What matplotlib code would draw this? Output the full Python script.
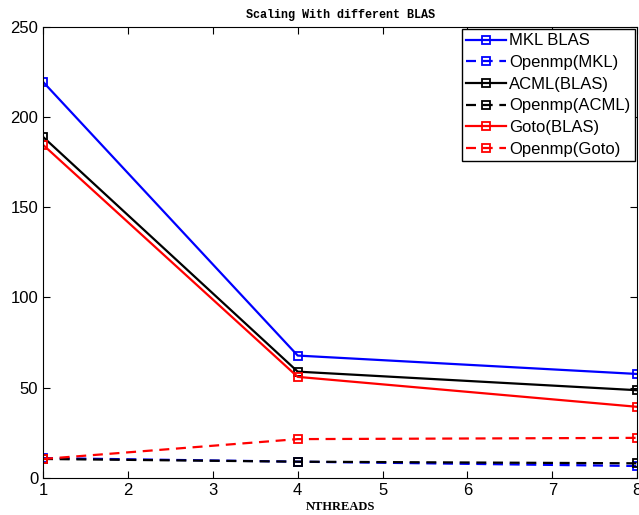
import matplotlib
matplotlib.use('Agg')
import matplotlib.pyplot as plt

# threads
nthreads = [1, 4, 8]

# timings
mkl_blas = [219.5, 67.8, 57.6]
omp_mkl = [11.0, 9.0, 6.6]
acml_blas = [189.0, 58.9, 48.6]
omp_acml = [10.5, 9.0, 8.1]
goto_blas = [184.6, 56.0, 39.4]
omp_goto = [10.5, 21.5, 22.2]

plt.rcParams['font.family'] = ['Liberation Sans', 'DejaVu Sans']

fig = plt.figure(figsize=(6.39, 5.15), dpi=100)
ax = fig.add_axes([0.0673, 0.072, 0.930, 0.876])

ms = 5.5
lw = 1.6
dash = (4.5, 3)
series = [
    (mkl_blas, '-', 'blue', 'MKL BLAS'),
    (omp_mkl, '--', 'blue', 'Openmp(MKL)'),
    (acml_blas, '-', 'black', 'ACML(BLAS)'),
    (omp_acml, '--', 'black', 'Openmp(ACML)'),
    (goto_blas, '-', 'red', 'Goto(BLAS)'),
    (omp_goto, '--', 'red', 'Openmp(Goto)'),
]
for vals, ls, col, lab in series:
    line, = ax.plot(nthreads, vals, ls, marker='s', color=col, mfc='none', ms=ms,
                    mew=1.3, lw=lw, label=lab)
    if ls == '--':
        line.set_dashes(dash)

ax.set_xlim(1, 8)
ax.set_ylim(0, 250)
ax.set_xticks(range(1, 9))
ax.set_yticks([0, 50, 100, 150, 200, 250])
ax.tick_params(direction='in', top=True, right=True, labelsize=12, length=5)
ax.tick_params(axis='x', pad=4)

ax.set_title('Scaling With different BLAS', family=['Liberation Mono', 'DejaVu Sans Mono'],
             fontweight='bold', fontsize=8.5, pad=6)
ax.set_xlabel('NTHREADS', family=['Liberation Serif', 'DejaVu Serif'], fontweight='bold',
              fontsize=9, labelpad=2)

leg = ax.legend(loc='upper right', fontsize=12, frameon=True, fancybox=False,
                borderpad=0.25, labelspacing=0.4, handlelength=2.4, handletextpad=0.2,
                borderaxespad=0.15, framealpha=1)
leg.get_frame().set_edgecolor('black')
leg.get_frame().set_linewidth(1.0)

plt.savefig('out.png', dpi=100)
